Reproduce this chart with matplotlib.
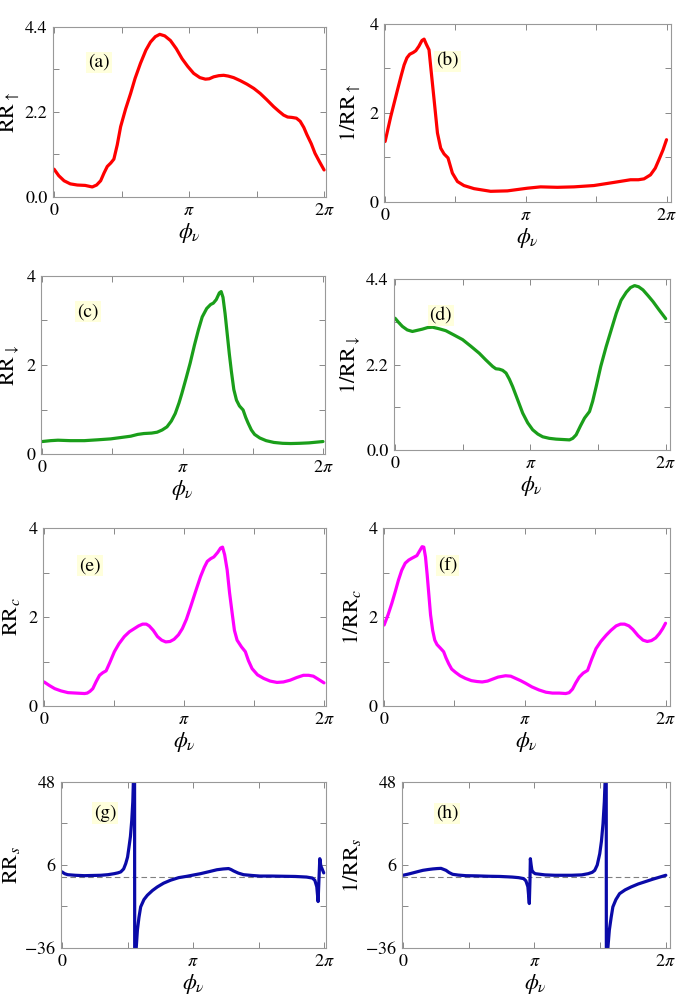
import matplotlib
matplotlib.use('Agg')
import matplotlib.pyplot as plt
import numpy as np

# fonts: Times-like look
plt.rcParams['font.family'] = 'STIXGeneral'
plt.rcParams['mathtext.fontset'] = 'stix'

# ---- data, phi in units of pi ----
# (a) RR_up
phi_a = [0, 0.035, 0.074, 0.120, 0.172, 0.230, 0.283, 0.315, 0.345, 0.370, 0.394, 0.420,
         0.443, 0.468, 0.493, 0.530, 0.567, 0.600, 0.640, 0.680, 0.714, 0.750, 0.783,
         0.820, 0.862, 0.905, 0.948, 0.990, 1.034, 1.080, 1.121, 1.150, 1.182, 1.220,
         1.256, 1.290, 1.330, 1.380, 1.429, 1.480, 1.527, 1.575, 1.626, 1.665, 1.700,
         1.730, 1.761, 1.795, 1.823, 1.850, 1.872, 1.905, 1.933, 1.965, 2.0]
val_a = [0.72, 0.55, 0.42, 0.34, 0.31, 0.30, 0.26, 0.31, 0.42, 0.62, 0.79, 0.88,
         0.98, 1.35, 1.82, 2.28, 2.68, 3.07, 3.46, 3.80, 4.01, 4.15, 4.21,
         4.17, 4.05, 3.84, 3.58, 3.38, 3.20, 3.09, 3.05, 3.06, 3.11, 3.14,
         3.15, 3.13, 3.09, 3.01, 2.92, 2.81, 2.68, 2.52, 2.34, 2.22, 2.12,
         2.07, 2.06, 2.04, 1.96, 1.80, 1.62, 1.38, 1.13, 0.92, 0.70]

# (b) 1/RR_up
phi_b = [0, 0.040, 0.088, 0.115, 0.135, 0.155, 0.175, 0.200, 0.218, 0.240, 0.262, 0.277,
         0.292, 0.312, 0.324, 0.348, 0.372, 0.395, 0.419, 0.447, 0.478, 0.514, 0.560,
         0.632, 0.750, 0.869, 1.011, 1.105, 1.224, 1.342, 1.484, 1.626, 1.744, 1.800,
         1.840, 1.886, 1.920, 1.946, 1.975, 2.0]
val_b = [1.36, 1.92, 2.52, 2.85, 3.08, 3.24, 3.32, 3.36, 3.40, 3.50, 3.63, 3.66,
         3.55, 3.42, 3.04, 2.30, 1.55, 1.21, 1.08, 0.99, 0.65, 0.46, 0.37,
         0.30, 0.24, 0.25, 0.31, 0.34, 0.33, 0.34, 0.37, 0.44, 0.50, 0.50,
         0.52, 0.61, 0.76, 0.95, 1.17, 1.40]

# (c) RR_down
phi_c = [0, 0.060, 0.113, 0.200, 0.301, 0.400, 0.489, 0.560, 0.631, 0.680, 0.725, 0.780,
         0.819, 0.855, 0.889, 0.920, 0.948, 0.975, 0.995, 1.025, 1.054, 1.085, 1.113,
         1.140, 1.172, 1.200, 1.219, 1.240, 1.262, 1.275, 1.288, 1.303, 1.318, 1.333,
         1.348, 1.365, 1.384, 1.405, 1.431, 1.450, 1.466, 1.490, 1.513, 1.550, 1.595,
         1.650, 1.713, 1.770, 1.831, 1.900, 2.0]
val_c = [0.28, 0.30, 0.31, 0.30, 0.30, 0.32, 0.34, 0.37, 0.40, 0.44, 0.46, 0.47,
         0.49, 0.54, 0.61, 0.74, 0.91, 1.15, 1.36, 1.70, 2.04, 2.45, 2.79,
         3.08, 3.27, 3.36, 3.39, 3.47, 3.62, 3.65, 3.52, 3.15, 2.70, 2.25,
         1.85, 1.45, 1.21, 1.08, 0.99, 0.82, 0.70, 0.54, 0.44, 0.36, 0.30,
         0.26, 0.24, 0.235, 0.24, 0.25, 0.28]

# (d) 1/RR_down
phi_d = [0, 0.027, 0.054, 0.090, 0.128, 0.165, 0.202, 0.240, 0.277, 0.325, 0.375, 0.435,
         0.499, 0.560, 0.622, 0.670, 0.721, 0.745, 0.770, 0.795, 0.820, 0.845, 0.869,
         0.905, 0.943, 0.980, 1.017, 1.055, 1.091, 1.140, 1.190, 1.240, 1.289, 1.313,
         1.338, 1.370, 1.400, 1.437, 1.460, 1.486, 1.520, 1.560, 1.600, 1.635, 1.670,
         1.709, 1.740, 1.770, 1.800, 1.832, 1.870, 1.906, 1.950, 2.0]
val_d = [3.39, 3.28, 3.18, 3.09, 3.05, 3.08, 3.11, 3.15, 3.16, 3.12, 3.07, 2.96,
         2.84, 2.67, 2.49, 2.32, 2.15, 2.09, 2.08, 2.05, 1.98, 1.82, 1.63,
         1.30, 0.95, 0.70, 0.52, 0.41, 0.34, 0.30, 0.28, 0.27, 0.26, 0.30,
         0.39, 0.62, 0.82, 0.99, 1.25, 1.63, 2.15, 2.66, 3.12, 3.52, 3.85,
         4.06, 4.18, 4.23, 4.20, 4.12, 3.97, 3.82, 3.61, 3.38]

# (e) RR_c
phi_e = [0, 0.038, 0.076, 0.120, 0.171, 0.230, 0.289, 0.308, 0.328, 0.348, 0.372, 0.396,
         0.420, 0.443, 0.470, 0.502, 0.535, 0.573, 0.610, 0.645, 0.675, 0.704, 0.730,
         0.751, 0.780, 0.810, 0.840, 0.869, 0.900, 0.929, 0.960, 0.988, 1.017, 1.047,
         1.083, 1.118, 1.145, 1.166, 1.190, 1.213, 1.240, 1.261, 1.275, 1.290, 1.308,
         1.325, 1.344, 1.360, 1.379, 1.410, 1.438, 1.460, 1.486, 1.525, 1.569, 1.615,
         1.664, 1.710, 1.758, 1.805, 1.853, 1.890, 1.924, 1.960, 2.0]
val_e = [0.54, 0.46, 0.39, 0.34, 0.30, 0.29, 0.28, 0.29, 0.33, 0.39, 0.55, 0.69,
         0.75, 0.79, 0.98, 1.22, 1.40, 1.56, 1.67, 1.74, 1.80, 1.84, 1.84,
         1.80, 1.70, 1.56, 1.48, 1.44, 1.45, 1.50, 1.60, 1.74, 1.95, 2.23,
         2.58, 2.91, 3.12, 3.25, 3.31, 3.35, 3.45, 3.55, 3.57, 3.40, 3.06,
         2.55, 2.08, 1.70, 1.48, 1.33, 1.22, 1.02, 0.84, 0.70, 0.62, 0.56,
         0.53, 0.54, 0.58, 0.64, 0.69, 0.69, 0.67, 0.60, 0.52]

# (f) 1/RR_c
phi_f = [0, 0.028, 0.055, 0.080, 0.102, 0.125, 0.150, 0.175, 0.197, 0.215, 0.233, 0.255,
         0.270, 0.282, 0.294, 0.306, 0.318, 0.330, 0.345, 0.360, 0.376, 0.400, 0.423,
         0.440, 0.459, 0.480, 0.506, 0.540, 0.578, 0.620, 0.660, 0.697, 0.735, 0.768,
         0.810, 0.863, 0.900, 0.935, 0.970, 1.006, 1.050, 1.101, 1.150, 1.196, 1.245,
         1.291, 1.315, 1.339, 1.362, 1.387, 1.415, 1.446, 1.475, 1.506, 1.540, 1.578,
         1.612, 1.649, 1.680, 1.709, 1.740, 1.768, 1.805, 1.840, 1.870, 1.900, 1.930,
         1.957, 1.980, 2.0]
val_f = [1.82, 2.05, 2.31, 2.58, 2.83, 3.05, 3.21, 3.28, 3.32, 3.35, 3.38, 3.50,
         3.58, 3.57, 3.35, 2.95, 2.50, 2.05, 1.70, 1.48, 1.38, 1.30, 1.22,
         1.08, 0.95, 0.83, 0.76, 0.68, 0.62, 0.57, 0.55, 0.54, 0.56, 0.60,
         0.65, 0.68, 0.67, 0.62, 0.57, 0.51, 0.43, 0.36, 0.31, 0.29, 0.29,
         0.28, 0.30, 0.38, 0.52, 0.65, 0.74, 0.80, 1.05, 1.29, 1.45, 1.59,
         1.70, 1.80, 1.84, 1.84, 1.80, 1.72, 1.58, 1.48, 1.45, 1.47, 1.53,
         1.63, 1.74, 1.86]

# (g) RR_s  (pole near 0.554 pi)
phi_g = [0, 0.020, 0.043, 0.100, 0.170, 0.296, 0.350, 0.397, 0.425, 0.448, 0.470, 0.486,
         0.500, 0.511, 0.522, 0.532, 0.540, 0.546, 0.553, 0.555, 0.566, 0.575, 0.587,
         0.600, 0.625, 0.651, 0.690, 0.727, 0.775, 0.828, 0.890, 0.954, 1.000, 1.056,
         1.120, 1.182, 1.230, 1.271, 1.290, 1.309, 1.345, 1.385, 1.450, 1.511, 1.600,
         1.689, 1.780, 1.866, 1.910, 1.929, 1.944, 1.954, 1.962, 1.967, 1.975, 1.985,
         1.997]
val_g = [2.5, 1.6, 1.1, 0.8, 0.6, 0.8, 1.1, 1.6, 2.0, 2.5, 4.0, 6.7,
         10.0, 15.1, 20.5, 28.6, 38.0, 52.0, 90.0, -90.0, -36.0, -27.0, -20.5,
         -15.2, -11.5, -9.3, -6.9, -5.1, -3.2, -1.7, -0.4, 0.3, 0.9, 1.6,
         2.6, 3.6, 4.0, 4.2, 3.7, 3.0, 1.9, 1.1, 0.7, 0.4, 0.4,
         0.3, 0.2, -0.1, -0.6, -1.7, -5.0, -12.5, 1.0, 9.2, 5.5, 4.0,
         2.0]

# (h) 1/RR_s  (pole near 1.547 pi)
phi_h = [0, 0.040, 0.075, 0.115, 0.151, 0.190, 0.226, 0.260, 0.289, 0.308, 0.327, 0.350,
         0.377, 0.420, 0.478, 0.560, 0.654, 0.740, 0.830, 0.880, 0.918, 0.935, 0.950,
         0.961, 0.966, 0.969, 0.975, 0.981, 0.993, 1.006, 1.080, 1.157, 1.283, 1.360,
         1.409, 1.440, 1.459, 1.478, 1.497, 1.510, 1.522, 1.532, 1.540, 1.546, 1.548,
         1.559, 1.570, 1.584, 1.597, 1.620, 1.648, 1.690, 1.736, 1.790, 1.836, 1.900,
         1.950, 2.0]
val_h = [0.8, 1.4, 2.0, 2.7, 3.3, 3.7, 4.0, 4.2, 4.3, 3.8, 3.3, 2.2,
         1.3, 0.9, 0.6, 0.5, 0.3, 0.2, -0.1, -0.4, -0.9, -2.0, -5.0,
         -13.5, -2.0, 9.2, 6.0, 3.3, 2.2, 1.6, 1.0, 0.8, 0.8, 1.0,
         1.6, 2.3, 3.3, 6.0, 11.7, 18.0, 26.9, 38.0, 52.0, 90.0, -90.0,
         -36.0, -27.0, -20.5, -15.2, -11.5, -8.5, -6.6, -5.1, -3.6, -2.6, -1.2,
         -0.2, 0.8]

red = '#ff0000'
green = '#1a9e1a'
magenta = '#ff00ff'
blue = '#0a0aa8'

# panels: (phi, val, color, ylabel, tag, ylim, yticks, ytick labels, box px, tag pos, ylabel x px)
panels = [
    (phi_a, val_a, red, r'RR$_{\uparrow}$', '(a)', (0, 4.4), [0, 1.1, 2.2, 3.3, 4.4],
     ['0.0', '', '2.2', '', '4.4'], (53, 326, 27, 197), (0.168, 0.794), 22),
    (phi_b, val_b, red, r'1/RR$_{\uparrow}$', '(b)', (0, 4), [0, 1, 2, 3, 4],
     ['0', '', '2', '', '4'], (384, 671, 24, 202), (0.221, 0.792), 363),
    (phi_c, val_c, green, r'RR$_{\downarrow}$', '(c)', (0, 4), [0, 1, 2, 3, 4],
     ['0', '', '2', '', '4'], (41, 325, 276, 454), (0.165, 0.798), 22),
    (phi_d, val_d, green, r'1/RR$_{\downarrow}$', '(d)', (0, 4.4), [0, 1.1, 2.2, 3.3, 4.4],
     ['0.0', '', '2.2', '', '4.4'], (394, 670, 279, 450), (0.170, 0.784), 363),
    (phi_e, val_e, magenta, r'RR$_{c}$', '(e)', (0, 4), [0, 1, 2, 3, 4],
     ['0', '', '2', '', '4'], (43, 326, 528, 706), (0.166, 0.787), 22),
    (phi_f, val_f, magenta, r'1/RR$_{c}$', '(f)', (0, 4), [0, 1, 2, 3, 4],
     ['0', '', '2', '', '4'], (383, 670, 528, 706), (0.226, 0.792), 363),
    (phi_g, val_g, blue, r'RR$_{s}$', '(g)', (-36, 48), [-36, -15, 6, 27, 48],
     ['$-36$', '', '6', '', '48'], (61, 326, 782, 948), (0.166, 0.813), 22),
    (phi_h, val_h, blue, r'1/RR$_{s}$', '(h)', (-36, 48), [-36, -15, 6, 27, 48],
     ['$-36$', '', '6', '', '48'], (402, 670, 782, 948), (0.168, 0.813), 363),
]

W, H = 677, 996
fig = plt.figure(figsize=(W / 100, H / 100), dpi=100)

for phi, val, col, ylab, tag, ylim, yt, ytl, box, tpos, ylab_x in panels:
    l, r, t, b = box
    ax = fig.add_axes([l / W, 1 - b / H, (r - l) / W, (b - t) / H])
    x = np.array(phi) * np.pi
    if ylim[0] < 0:
        ax.axhline(0, color='gray', lw=0.8, ls=(0, (5, 3)), zorder=1)
    ax.plot(x, val, color=col, lw=2.3, solid_joinstyle='round', solid_capstyle='round', zorder=2)

    # right column has a bit more padding after 2pi
    right_pad = 0.1 if l > 300 else 0.045
    ax.set_xlim(-0.025, 2 * np.pi + right_pad)
    ax.set_ylim(*ylim)
    ax.set_xticks([0, np.pi / 2, np.pi, 3 * np.pi / 2, 2 * np.pi],
                  ['0', '', r'$\pi$', '', r'$2\pi$'])
    ax.set_yticks(yt, ytl)
    ax.tick_params(direction='in', length=4, width=0.7, color='#888888',
                   top=True, right=True, labelsize=13, pad=4)
    for sp in ax.spines.values():
        sp.set_color('#999999')
        sp.set_linewidth(0.8)

    ax.set_xlabel(r'$\phi_{\nu}$', fontsize=16)
    ax.xaxis.set_label_coords(0.5, -24 / (b - t), transform=ax.transAxes)
    ax.xaxis.label.set_va('top')
    ax.set_ylabel(ylab, fontsize=16)
    ax.yaxis.set_label_coords((ylab_x - l) / (r - l), 0.5)

    ax.text(tpos[0], tpos[1], tag, transform=ax.transAxes, fontsize=14,
            ha='center', va='center',
            bbox=dict(boxstyle='square,pad=0.1', fc='#ffffdc', ec='none'))

fig.savefig('out.png', dpi=100)
